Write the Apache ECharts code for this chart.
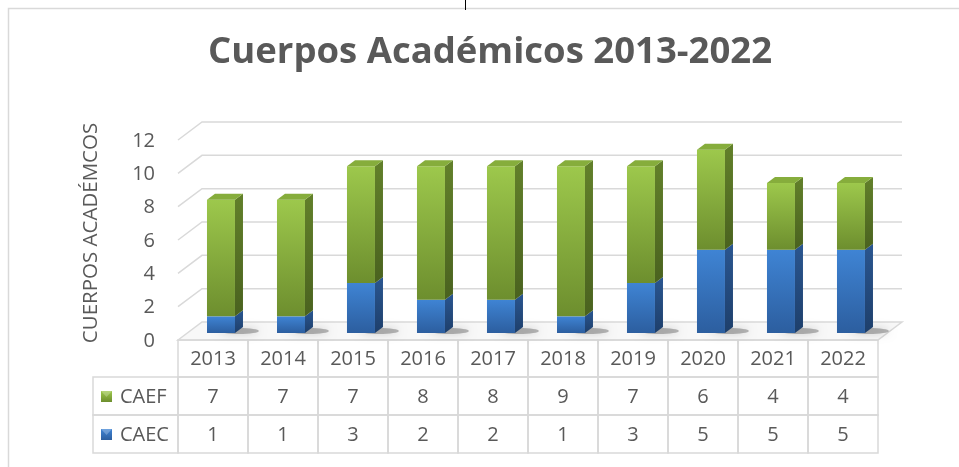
<!DOCTYPE html>
<html>
<head>
<meta charset="utf-8">
<script src="https://cdn.jsdelivr.net/npm/echarts@6/dist/echarts.min.js"></script>
<style>
    html, body { margin: 0; background: #fff; }
    #chart { width: 959px; height: 467px; }
</style>
</head>
<body>
<div id="chart"></div>
<script>

// datos
const years = ['2013', '2014', '2015', '2016', '2017', '2018', '2019', '2020', '2021', '2022'];
const caef = [7, 7, 7, 8, 8, 9, 7, 6, 4, 4];
const caec = [1, 1, 3, 2, 2, 1, 3, 5, 5, 5];
const yTicks = [0, 2, 4, 6, 8, 10, 12];

const textColor = '#595959';
const lineColor = '#d9d9d9';
const font = '"Open Sans", sans-serif';

// profundidad 3D
const DX = 8, DY = -6;

function grad(a, b) {
    return new echarts.graphic.LinearGradient(0, 0, 0, 1, [
        { offset: 0, color: a },
        { offset: 1, color: b }
    ]);
}

const palette = {
    CAEF: { front: ['#9dc84c', '#6d8e2e'], side: ['#62802a', '#4a621f'], top: '#86ad3c' },
    CAEC: { front: ['#3f84d4', '#2c5e9f'], side: ['#2a5690', '#1e3f6b'], top: '#3470b8' }
};

// barra 3D
function renderBar(name, withTop, withShadow) {
    return function (params, api) {
        const i = api.value(0);
        const lo = api.coord([i, api.value(1)]);
        const hi = api.coord([i, api.value(2)]);
        const bw = api.size([1, 0])[0];
        const w = bw * 0.4;
        const x0 = lo[0] + bw * 0.114 - w / 2;
        const x1 = x0 + w;
        const c = palette[name];
        const children = [];
        if (withShadow) {
            children.push({
                type: 'ellipse',
                shape: { cx: x1 + 4, cy: lo[1] - 2, rx: 20, ry: 3 },
                style: { fill: 'rgba(60,60,60,0.35)', shadowBlur: 8, shadowColor: 'rgba(0,0,0,0.5)' }
            });
        }
        children.push({
            type: 'rect',
            shape: { x: x0, y: hi[1], width: w, height: lo[1] - hi[1] },
            style: { fill: grad(c.front[0], c.front[1]) }
        });
        children.push({
            type: 'polygon',
            shape: { points: [[x1, hi[1]], [x1 + DX, hi[1] + DY], [x1 + DX, lo[1] + DY], [x1, lo[1]]] },
            style: { fill: grad(c.side[0], c.side[1]) }
        });
        if (withTop) {
            children.push({
                type: 'polygon',
                shape: { points: [[x0, hi[1]], [x0 + DX, hi[1] + DY], [x1 + DX, hi[1] + DY], [x1, hi[1]]] },
                style: { fill: c.top }
            });
        }
        return { type: 'group', children };
    };
}

// rejilla en perspectiva
function renderGridLine(params, api) {
    const v = api.value(1);
    const bw = api.size([1, 0])[0];
    const left = api.coord([0, v])[0] - bw / 2;
    const right = api.coord([years.length - 1, v])[0] + bw / 2;
    const y = api.coord([0, v])[1];
    if (v === 0) {
        return {
            type: 'polygon',
            shape: { points: [[left, y + 7], [left + 24, y - 11], [right + 24, y - 11], [right, y + 7]] },
            style: { fill: '#f8f8f8', stroke: lineColor, lineWidth: 1.5 }
        };
    }
    return {
        type: 'polyline',
        shape: { points: [[left, y + 7], [left + 24, y - 11], [right + 24, y - 11]] },
        style: { fill: null, stroke: lineColor, lineWidth: 1.5 }
    };
}

// tabla de datos
const rowTop = 340, rowH1 = 37, rowH = 38;
function renderTable(params, api) {
    const i = api.value(0);
    const cx = api.coord([i, 0])[0];
    const bw = api.size([1, 0])[0];
    const x = cx - bw / 2;
    const rows = [
        [rowTop, rowH1, null],
        [rowTop + rowH1, rowH, api.value(1)],
        [rowTop + rowH1 + rowH, rowH, api.value(2)]
    ];
    const children = [];
    rows.forEach(([y, h, val]) => {
        children.push({
            type: 'rect',
            shape: { x, y, width: bw, height: h },
            style: { fill: null, stroke: lineColor, lineWidth: 1.5 }
        });
        if (val !== null) {
            children.push({
                type: 'text',
                style: {
                    text: String(val), x: cx, y: y + h / 2 + 1,
                    align: 'center', verticalAlign: 'middle',
                    fill: textColor, font: '20px ' + font
                }
            });
        }
    });
    return { type: 'group', children };
}

function legendCell(label, y, colors) {
    return [
        { type: 'rect', shape: { x: 93, y, width: 85, height: rowH }, style: { fill: null, stroke: lineColor, lineWidth: 1.5 } },
        { type: 'rect', shape: { x: 101, y: y + 14, width: 11, height: 11 }, style: { fill: grad(colors[0], colors[1]) } },
        { type: 'polygon', shape: { points: [[101, y + 14], [112, y + 14], [106.5, y + 20]] }, style: { fill: 'rgba(255,255,255,0.25)' } },
        { type: 'text', style: { text: label, x: 120, y: y + rowH / 2 + 1, verticalAlign: 'middle', fill: textColor, font: '20px ' + font } }
    ];
}

const chart = echarts.init(document.getElementById('chart'));

const option = {
    animation: false,
    title: {
        text: 'Cuerpos Académicos 2013-2022',
        left: 203,
        top: 29,
        textStyle: { fontFamily: font, fontSize: 36.5, fontWeight: 'bold', color: textColor }
    },
    grid: { left: 178, right: 81, top: 133, bottom: 134 },
    xAxis: {
        type: 'category',
        data: years,
        axisLine: { show: false },
        axisTick: { show: false },
        axisLabel: { color: textColor, fontFamily: font, fontSize: 20, margin: 26, verticalAlign: 'middle' },
        splitLine: { show: false }
    },
    yAxis: {
        type: 'value',
        min: 0,
        max: 12,
        interval: 2,
        name: 'CUERPOS ACADÉMCOS',
        nameLocation: 'middle',
        nameRotate: 90,
        nameGap: 76,
        nameTextStyle: { color: textColor, fontFamily: font, fontSize: 20.5 },
        axisLine: { show: false },
        axisTick: { show: false },
        splitLine: { show: false },
        axisLabel: { color: textColor, fontFamily: font, fontSize: 20, margin: 23, verticalAlign: 'top', lineHeight: 16 }
    },
    graphic: [
        { type: 'rect', silent: true, z: -10, shape: { x: 8.5, y: 8.5, width: 1000, height: 1000 }, style: { fill: null, stroke: lineColor, lineWidth: 1.5 } },
        { type: 'line', silent: true, shape: { x1: 465.5, y1: 0, x2: 465.5, y2: 10 }, style: { stroke: '#000', lineWidth: 1 } },
        ...legendCell('CAEF', rowTop + rowH1, palette.CAEF.front),
        ...legendCell('CAEC', rowTop + rowH1 + rowH, palette.CAEC.front)
    ],
    series: [
        {
            type: 'custom',
            name: 'grid',
            z: 1,
            silent: true,
            renderItem: renderGridLine,
            data: yTicks.map(v => [0, v])
        },
        {
            type: 'custom',
            name: 'CAEC',
            z: 2,
            renderItem: renderBar('CAEC', false, true),
            data: years.map((y, i) => [i, 0, caec[i]])
        },
        {
            type: 'custom',
            name: 'CAEF',
            z: 3,
            renderItem: renderBar('CAEF', true, false),
            data: years.map((y, i) => [i, caec[i], caec[i] + caef[i]])
        },
        {
            type: 'custom',
            name: 'table',
            z: 1,
            silent: true,
            renderItem: renderTable,
            data: years.map((y, i) => [i, caef[i], caec[i]])
        }
    ]
};

chart.setOption(option);

</script>
</body>
</html>
